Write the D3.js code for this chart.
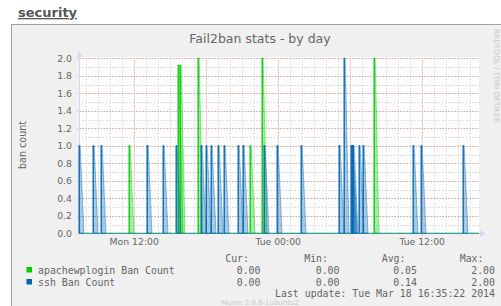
<!DOCTYPE html>
<html>
<head>
<meta charset="utf-8">
<script src="https://cdn.jsdelivr.net/npm/d3@7"></script>
<style>
  body { margin: 0; background: #ffffff; }
</style>
</head>
<body>
<div id="grafico"></div>
<script>
// datos (munin fail2ban, por dia)
var inicio = "2014-03-17 07:24";
var fin = "2014-03-18 16:44";

var apacheTimes = ["2014-03-17 11:35", "2014-03-17 15:40", "2014-03-17 15:50", "2014-03-17 17:20",
                   "2014-03-17 21:40", "2014-03-17 22:40", "2014-03-18 08:00"];
var apacheValues = [1, 1.92, 1.92, 2, 1, 2, 2];

var sshTimes = ["2014-03-17 07:25", "2014-03-17 08:35", "2014-03-17 09:15", "2014-03-17 13:05",
                "2014-03-17 14:25", "2014-03-17 15:30", "2014-03-17 17:35", "2014-03-17 18:00",
                "2014-03-17 18:25", "2014-03-17 19:00", "2014-03-17 19:30", "2014-03-17 20:40",
                "2014-03-17 21:05", "2014-03-17 22:50", "2014-03-17 23:55", "2014-03-18 01:55",
                "2014-03-18 05:05", "2014-03-18 05:30", "2014-03-18 06:05", "2014-03-18 06:10",
                "2014-03-18 06:15", "2014-03-18 06:45", "2014-03-18 07:05", "2014-03-18 11:15",
                "2014-03-18 11:55", "2014-03-18 15:25"];
var sshValues = [1, 1, 1, 1, 1, 1, 1, 1, 1, 1, 1, 1, 1, 1, 1, 1, 1, 2, 1, 1, 1, 1, 1, 1, 1, 1];

var yTicks = [0, 0.2, 0.4, 0.6, 0.8, 1.0, 1.2, 1.4, 1.6, 1.8, 2.0];
var xLabels = ["2014-03-17 12:00", "2014-03-18 00:00", "2014-03-18 12:00"];

var seriesNames = ["apachewplogin Ban Count", "ssh Ban Count"];
var seriesColors = ["#00cc00", "#0066b3"];
var statHeaders = ["Cur:", "Min:", "Avg:", "Max:"];
var apacheStats = ["0.00", "0.00", "0.05", "2.00"];
var sshStats = ["0.00", "0.00", "0.14", "2.00"];

function draw() {
  var ancho = 501, alto = 306;
  var parse = d3.timeParse("%Y-%m-%d %H:%M");
  var fmt = d3.timeFormat("%a %H:%M");
  var fuente = "DejaVu Sans, sans-serif";
  var mono = "DejaVu Sans Mono, monospace";
  var gris = "#666666";

  var svg = d3.select("#grafico")
    .append("svg")
    .attr("width", ancho)
    .attr("height", alto);

  // titulo de la pagina
  svg.append("text")
    .text("security")
    .attr("x", 18)
    .attr("y", 17)
    .attr("font-family", fuente)
    .attr("font-weight", "bold")
    .attr("font-size", "13px")
    .attr("text-decoration", "underline")
    .attr("fill", "#555555");

  // marco de la imagen
  svg.append("rect")
    .attr("x", 11.5)
    .attr("y", 24.5)
    .attr("width", 600)
    .attr("height", 400)
    .attr("fill", "#f0f0f0")
    .attr("stroke", "#a0a0a0");

  var x = d3.scaleTime()
    .domain([parse(inicio), parse(fin)])
    .range([79, 479]);
  var y = d3.scaleLinear()
    .domain([0, 2])
    .range([233.3, 58.3]);

  // lienzo blanco
  svg.append("rect")
    .attr("x", 79)
    .attr("y", 57)
    .attr("width", 400)
    .attr("height", 176.5)
    .attr("fill", "#ffffff");

  svg.append("text")
    .text("Fail2ban stats - by day")
    .attr("x", 260)
    .attr("y", 43)
    .attr("text-anchor", "middle")
    .attr("font-family", fuente)
    .attr("font-size", "12.5px")
    .attr("fill", gris);

  // marca de agua vertical
  svg.append("text")
    .text("RRDTOOL / TOBI OETIKER")
    .attr("transform", "translate(494,29) rotate(90)")
    .attr("font-family", fuente)
    .attr("font-size", "7.3px")
    .attr("fill", "#c8c8c8");

  // rejilla menor
  var grid = svg.append("g").attr("class", "grid");
  grid.selectAll(".vmin")
    .data(x.ticks(d3.timeHour.every(1)))
    .enter()
    .append("line")
    .attr("x1", function(d) { return Math.round(x(d)) + 0.5; })
    .attr("x2", function(d) { return Math.round(x(d)) + 0.5; })
    .attr("y1", y(0))
    .attr("y2", y(2))
    .attr("stroke", "#c8c8c8")
    .attr("stroke-dasharray", "1,2");
  grid.selectAll(".hmin")
    .data(y.ticks(20))
    .enter()
    .append("line")
    .attr("x1", 79)
    .attr("x2", 479)
    .attr("y1", function(d) { return Math.round(y(d)) + 0.5; })
    .attr("y2", function(d) { return Math.round(y(d)) + 0.5; })
    .attr("stroke", "#c8c8c8")
    .attr("stroke-dasharray", "1,2");
  // rejilla mayor
  grid.selectAll(".vmaj")
    .data(x.ticks(d3.timeHour.every(6)))
    .enter()
    .append("line")
    .attr("x1", function(d) { return Math.round(x(d)) + 0.5; })
    .attr("x2", function(d) { return Math.round(x(d)) + 0.5; })
    .attr("y1", y(0) + 2)
    .attr("y2", y(2))
    .attr("stroke", "#f0a0a0")
    .attr("stroke-dasharray", "1,2");
  grid.selectAll(".hmaj")
    .data(yTicks)
    .enter()
    .append("line")
    .attr("x1", 77)
    .attr("x2", 479)
    .attr("y1", function(d) { return Math.round(y(d)) + 0.5; })
    .attr("y2", function(d) { return Math.round(y(d)) + 0.5; })
    .attr("stroke", "#f0a0a0")
    .attr("stroke-dasharray", "1,2");

  // ejes
  var ejeColor = "#cfd6f8";
  svg.append("line")
    .attr("x1", 79.5).attr("x2", 79.5)
    .attr("y1", y(0)).attr("y2", 55)
    .attr("stroke", ejeColor);
  svg.append("path")
    .attr("d", "M76.5,57 L79.5,51.5 L82.5,57 Z")
    .attr("fill", ejeColor);
  svg.append("line")
    .attr("x1", 79).attr("x2", 482)
    .attr("y1", 233.5).attr("y2", 233.5)
    .attr("stroke", ejeColor);
  svg.append("path")
    .attr("d", "M480,230.5 L485.5,233.5 L480,236.5 Z")
    .attr("fill", ejeColor);

  // etiquetas eje Y
  svg.selectAll(".ylab")
    .data(yTicks)
    .enter()
    .append("text")
    .text(function(d) { return d3.format(".1f")(d); })
    .attr("x", 72)
    .attr("y", function(d) { return y(d) + 3.5; })
    .attr("text-anchor", "end")
    .attr("font-family", fuente)
    .attr("font-size", "9.3px")
    .attr("fill", gris);

  svg.append("text")
    .text("ban count")
    .attr("transform", "translate(26,145) rotate(-90)")
    .attr("text-anchor", "middle")
    .attr("font-family", fuente)
    .attr("font-size", "9.6px")
    .attr("fill", gris);

  // etiquetas eje X
  svg.selectAll(".xlab")
    .data(xLabels)
    .enter()
    .append("text")
    .text(function(d) { return fmt(parse(d)); })
    .attr("x", function(d) { return x(parse(d)); })
    .attr("y", 245)
    .attr("text-anchor", "middle")
    .attr("font-family", fuente)
    .attr("font-size", "9.3px")
    .attr("fill", gris);

  // picos de cada serie
  var linea = d3.line()
    .x(function(d) { return x(d[0]); })
    .y(function(d) { return y(d[1]); });

  function picos(tiempos, valores, color) {
    var g = svg.append("g");
    g.append("line")
      .attr("x1", 79).attr("x2", 479)
      .attr("y1", y(0)).attr("y2", y(0))
      .attr("stroke", color)
      .attr("stroke-opacity", 0.6);
    var datos = tiempos.map(function(t, i) {
      var t0 = parse(t);
      return [[t0, 0], [t0, valores[i]],
              [d3.timeMinute.offset(t0, 5), valores[i]],
              [d3.timeMinute.offset(t0, 24), 0]];
    });
    // relleno claro del pico
    g.selectAll(".relleno")
      .data(datos)
      .enter()
      .append("path")
      .attr("d", function(d) { return linea(d) + "Z"; })
      .attr("fill", color)
      .attr("fill-opacity", 0.35)
      .attr("stroke", color)
      .attr("stroke-opacity", 0.4)
      .attr("stroke-width", 1);
    // borde de subida oscuro
    g.selectAll(".subida")
      .data(datos)
      .enter()
      .append("path")
      .attr("d", function(d) { return linea(d.slice(0, 3)); })
      .attr("fill", "none")
      .attr("stroke", color)
      .attr("stroke-width", 1.2);
  }
  picos(apacheTimes, apacheValues, seriesColors[0]);
  picos(sshTimes, sshValues, seriesColors[1]);

  // leyenda
  var cols = [260.5, 339.5, 417, 495];
  svg.selectAll(".head")
    .data(statHeaders)
    .enter()
    .append("text")
    .text(function(d) { return d; })
    .attr("x", function(d, i) { return cols[i] - 11.5; })
    .attr("y", 261.5)
    .attr("text-anchor", "end")
    .attr("font-family", mono)
    .attr("font-size", "9.9px")
    .attr("fill", gris);

  var filas = [apacheStats, sshStats];
  seriesNames.forEach(function(nombre, j) {
    var yy = 274 + j * 12;
    svg.append("rect")
      .attr("x", 26.5)
      .attr("y", yy - 7)
      .attr("width", 5.5)
      .attr("height", 5.5)
      .attr("fill", seriesColors[j]);
    svg.append("text")
      .text(nombre)
      .attr("x", 38)
      .attr("y", yy)
      .attr("font-family", mono)
      .attr("font-size", "9.9px")
      .attr("fill", gris);
    svg.selectAll(".v" + j)
      .data(filas[j])
      .enter()
      .append("text")
      .text(function(d) { return d; })
      .attr("x", function(d, i) { return cols[i]; })
      .attr("y", yy)
      .attr("text-anchor", "end")
      .attr("font-family", mono)
      .attr("font-size", "9.9px")
      .attr("fill", gris);
  });

  svg.append("text")
    .text("Last update: Tue Mar 18 16:35:22 2014")
    .attr("x", 495)
    .attr("y", 297)
    .attr("text-anchor", "end")
    .attr("font-family", mono)
    .attr("font-size", "9.9px")
    .attr("fill", gris);

  svg.append("text")
    .text("Munin 2.0.6-1ubuntu2")
    .attr("x", 260)
    .attr("y", 305)
    .attr("text-anchor", "middle")
    .attr("font-family", fuente)
    .attr("font-size", "7px")
    .attr("fill", "#c8c8c8");
}
draw();
</script>
</body>
</html>
